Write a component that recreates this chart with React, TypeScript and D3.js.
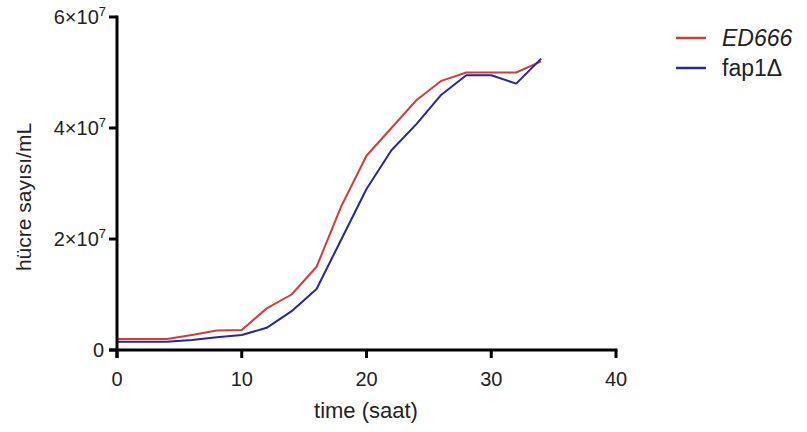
import React from "react";
import * as d3 from "d3";

const hours = [0, 2, 4, 6, 8, 10, 12, 14, 16, 18, 20, 22, 24, 26, 28, 30, 32, 34];
const ed666 = [2.0e6, 2.0e6, 2.0e6, 2.7e6, 3.5e6, 3.6e6, 7.5e6, 1.0e7, 1.5e7, 2.6e7, 3.5e7, 4.0e7, 4.5e7, 4.85e7, 5.0e7, 5.0e7, 5.0e7, 5.2e7];
const fap1 = [1.5e6, 1.5e6, 1.5e6, 1.8e6, 2.3e6, 2.7e6, 4.0e6, 7.0e6, 1.1e7, 2.0e7, 2.9e7, 3.6e7, 4.07e7, 4.6e7, 4.95e7, 4.95e7, 4.8e7, 5.25e7];
const xTicks = [0, 10, 20, 30, 40];
const yTicks = [0, 2e7, 4e7, 6e7];

const series = [
  { name: "ED666", values: ed666, color: "#d63a3a", italic: true },
  { name: "fap1Δ", values: fap1, color: "#25279a", italic: false },
];

export default function App() {
  const width = 807;
  const height = 432;
  const font = "'Liberation Sans', Arial, sans-serif";

  const x = d3.scaleLinear().domain([0, 40]).range([117, 616]);
  const y = d3.scaleLinear().domain([0, 6e7]).range([350, 17]);

  const line = (vals: number[]) =>
    d3.line<number>()
      .x((_, i) => x(hours[i]))
      .y((d) => y(d))(vals) || "";

  return (
    <svg width={width} height={height} style={{ position: "absolute", left: 0, top: 0, background: "#fff" }}>
      {/* lines */}
      {series.map((s) => (
        <path key={s.name} d={line(s.values)} fill="none" stroke={s.color} strokeWidth={2} strokeLinejoin="round" />
      ))}

      {/* y axis */}
      <line x1={x(0)} x2={x(0)} y1={y(6e7) - 1.5} y2={y(0) + 8} stroke="#000" strokeWidth={3} />
      {yTicks.map((t) => (
        <g key={t}>
          <line x1={x(0) - 8} x2={x(0)} y1={y(t)} y2={y(t)} stroke="#000" strokeWidth={3} />
          <text x={t === 0 ? 104 : 106} y={y(t) + 7} textAnchor="end" fontFamily={font} fontSize={20} fill="#222">
            {t === 0 ? "0" : (
              <>
                {`${t / 1e7}×10`}
                <tspan dy={-8} fontSize={13}>7</tspan>
              </>
            )}
          </text>
        </g>
      ))}

      {/* x axis */}
      <line x1={x(0) - 8} x2={x(40) + 1.5} y1={y(0)} y2={y(0)} stroke="#000" strokeWidth={3} />
      {xTicks.map((t) => (
        <g key={t}>
          <line x1={x(t)} x2={x(t)} y1={y(0)} y2={y(0) + 8} stroke="#000" strokeWidth={3} />
          <text x={x(t)} y={386} textAnchor="middle" fontFamily={font} fontSize={20} fill="#222">{t}</text>
        </g>
      ))}

      {/* axis titles */}
      <text x={366} y={418} textAnchor="middle" fontFamily={font} fontSize={22} fill="#222">time (saat)</text>
      <text transform="translate(31,197) rotate(-90)" textAnchor="middle" fontFamily={font} fontSize={21} fill="#222">
        hücre sayısı/mL
      </text>

      {/* legend */}
      {series.map((s, i) => (
        <g key={s.name} transform={`translate(676, ${38 + i * 30})`}>
          <line x1={0} x2={30} y1={0} y2={0} stroke={s.color} strokeWidth={2.5} />
          <text x={46} y={8} fontFamily={font} fontSize={23} fontStyle={s.italic ? "italic" : "normal"} fill="#222">
            {s.name}
          </text>
        </g>
      ))}
    </svg>
  );
}
